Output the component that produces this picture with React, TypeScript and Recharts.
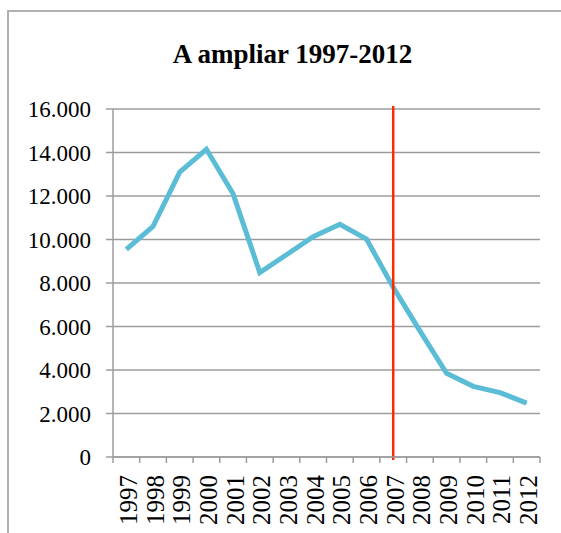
import { CartesianGrid, Line, LineChart, ReferenceLine, XAxis, YAxis } from "recharts";

const years = [1997, 1998, 1999, 2000, 2001, 2002, 2003, 2004, 2005, 2006, 2007, 2008, 2009, 2010, 2011, 2012];
const values = [9550, 10600, 13100, 14150, 12100, 8480, 9300, 10130, 10700, 10020, 7800, 5800, 3850, 3250, 2960, 2480];
const yTicks = [0, 2000, 4000, 6000, 8000, 10000, 12000, 14000, 16000];
const boundaryTicks = [...years.map((y) => y - 0.5), 2012.5];
const markerYear = 2007;

const data = years.map((year, i) => ({ year, value: values[i] }));

const serif = '"Liberation Serif", "Times New Roman", serif';

const fmt = (v: number) => String(v).replace(/\B(?=(\d{3})+(?!\d))/g, ".");

function YearTick({ x, y, payload }: any) {
  return (
    <text
      x={x}
      y={y}
      dy="0.42em"
      transform={`rotate(-90, ${x}, ${y})`}
      textAnchor="end"
      fontFamily={serif}
      fontSize={25}
      fill="#000"
    >
      {payload.value}
    </text>
  );
}

export default function App() {
  return (
    <div style={{ position: "absolute", left: 0, top: 0, width: 561, height: 533, background: "#fff" }}>
      <div
        style={{
          position: "absolute",
          left: 7,
          top: 10,
          width: 554,
          height: 523,
          borderLeft: "2px solid #b0b0b0",
          borderTop: "2px solid #b0b0b0",
          boxSizing: "border-box",
        }}
      />
      <div
        style={{
          position: "absolute",
          left: 0,
          top: 41,
          width: 585,
          textAlign: "center",
          fontFamily: serif,
          fontWeight: "bold",
          fontSize: 27,
          lineHeight: "26px",
          color: "#000",
        }}
      >
        A ampliar 1997-2012
      </div>
      <div style={{ position: "absolute", left: 0, top: 0 }}>
        <LineChart width={561} height={533} data={data} margin={{ top: 109, right: 21, left: 0, bottom: 0 }}>
          <CartesianGrid vertical={false} stroke="#9c9c9c" strokeWidth={1.5} />
          <YAxis
            width={113}
            domain={[0, 16000]}
            ticks={yTicks}
            tickFormatter={fmt}
            tickSize={7}
            tickMargin={15}
            interval={0}
            axisLine={{ stroke: "#9c9c9c", strokeWidth: 1.5 }}
            tickLine={{ stroke: "#9c9c9c", strokeWidth: 1.5 }}
            tick={{ fontFamily: serif, fontSize: 23, fill: "#000" }}
          />
          <XAxis
            xAxisId="b"
            dataKey="year"
            type="number"
            domain={[1996.5, 2012.5]}
            ticks={years}
            interval={0}
            height={70}
            tickSize={0}
            tickMargin={12}
            axisLine={false}
            tickLine={false}
            tick={<YearTick />}
          />
          <XAxis
            xAxisId="a"
            dataKey="year"
            type="number"
            domain={[1996.5, 2012.5]}
            ticks={boundaryTicks}
            interval={0}
            height={6}
            tickSize={6}
            tickFormatter={() => ""}
            axisLine={{ stroke: "#9c9c9c", strokeWidth: 1.5 }}
            tickLine={{ stroke: "#9c9c9c", strokeWidth: 1.5 }}
          />
          <Line
            xAxisId="b"
            type="linear"
            dataKey="value"
            stroke="#5bbcd5"
            strokeWidth={5}
            dot={false}
            isAnimationActive={false}
          />
          <ReferenceLine
            xAxisId="b"
            segment={[
              { x: markerYear, y: -140 },
              { x: markerYear, y: 16140 },
            ]}
            ifOverflow="visible"
            stroke="#ff2a00"
            strokeWidth={2.5}
          />
        </LineChart>
      </div>
    </div>
  );
}
